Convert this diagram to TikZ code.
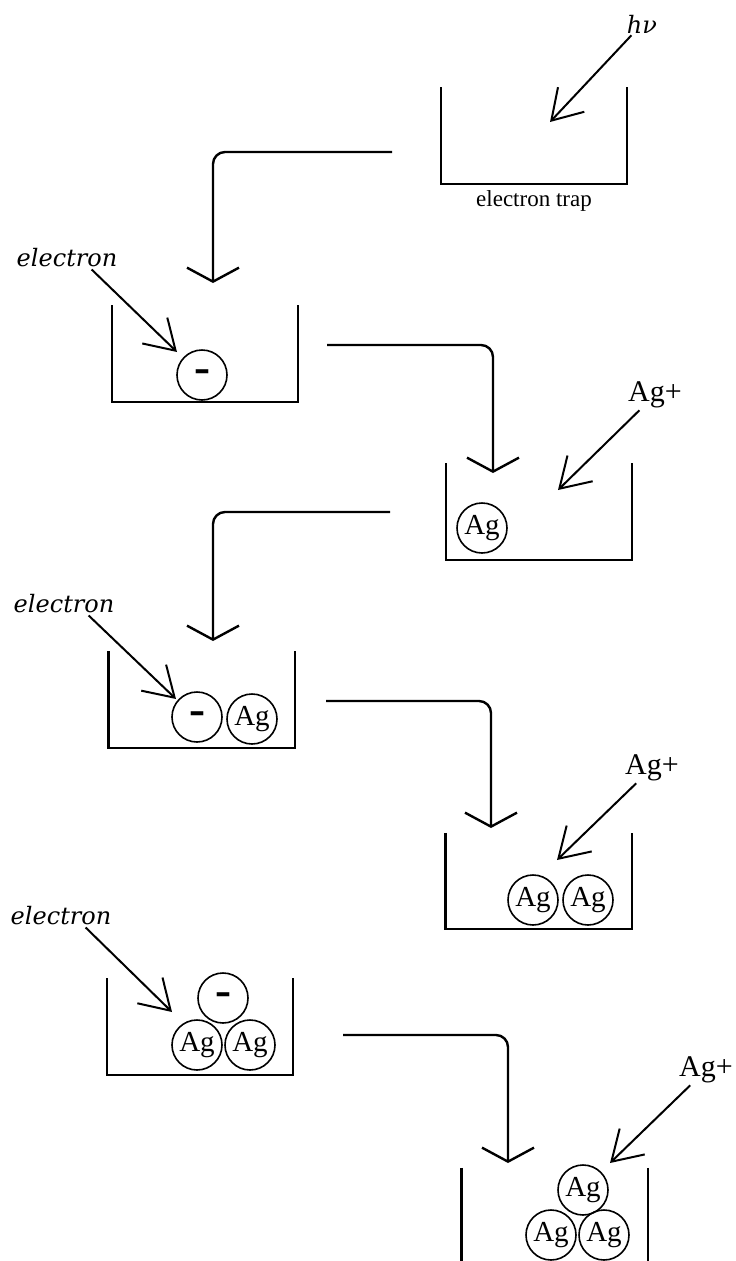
\documentclass[tikz,border=0pt]{standalone}
\usepackage{fontspec}
\setmainfont{Liberation Serif}
\newfontfamily\tagfont{DejaVu Serif}
\newfontfamily\signfont{DejaVu Sans}
\usepackage{tikz}
\usetikzlibrary{arrows.meta}
\usetikzlibrary{positioning}
\tikzstyle{trap} = [rectangle, minimum width=186pt, minimum height=96pt, inner sep=0pt]
\tikzstyle{wall} = [line width=2.4pt]
\tikzstyle{atom} = [circle, draw=black, line width=1.6pt, minimum size=50pt, inner sep=0pt, font=\fontsize{29}{30}\selectfont]
\tikzstyle{charge} = [atom, font=\signfont\bfseries\fontsize{32}{32}\selectfont]
\tikzstyle{ion} = [inner sep=2pt, font=\fontsize{30}{32}\selectfont]
\tikzstyle{tag} = [inner sep=2pt, font=\tagfont\itshape\fontsize{24}{26}\selectfont]
\tikzstyle{caption} = [inner sep=0pt, font=\fontsize{23}{25}\selectfont]
\tikzstyle{flow} = [line width=2.4pt, rounded corners=12pt, -{Straight Barb[length=14pt, width=52pt]}]
\tikzstyle{pointer} = [line width=2pt, -{Straight Barb[length=29pt, width=36pt]}]

\begin{document}
\begin{tikzpicture}[x=1pt, y=-1pt]
\useasboundingbox (0,0) rectangle (736,1261);

\node (trapA) [trap] at (534,135.5) {};
\node (trapB) [trap] at (205,353.5) {};
\node (trapC) [trap] at (539,511.5) {};
\node (trapD) [trap] at (201.5,699.5) {};
\node (trapE) [trap] at (538.5,881) {};
\node (trapF) [trap] at (200,1026.5) {};
\node (trapG) [trap, minimum height=93pt] at (554.5,1214.5) {};

\draw [wall] (trapA.north west) -- (trapA.south west) -- (trapA.south east) -- (trapA.north east);
\draw [wall] (trapB.north west) -- (trapB.south west) -- (trapB.south east) -- (trapB.north east);
\draw [wall] (trapC.north west) -- (trapC.south west) -- (trapC.south east) -- (trapC.north east);
\draw [wall] (trapD.north west) -- (trapD.south west) -- (trapD.south east) -- (trapD.north east);
\draw [wall] (trapE.north west) -- (trapE.south west) -- (trapE.south east) -- (trapE.north east);
\draw [wall] (trapF.north west) -- (trapF.south west) -- (trapF.south east) -- (trapF.north east);
\draw [wall] (trapG.north west) -- (trapG.south west);
\draw [wall] (trapG.north east) -- (trapG.south east);

\node (traptag) [caption, below=7pt of trapA] {electron trap};

% particles sitting in the traps
\node (minusB) [charge] at (202,375) {–};

\node (agC) [atom] at (482,528) {Ag};

\node (minusD) [charge] at (197,717) {–};
\node (agD) [atom] at (252,719) {Ag};

\node (agE1) [atom] at (533,900) {Ag};
\node (agE2) [atom] at (588,900) {Ag};

\node (minusF) [charge] at (223,998) {–};
\node (agF1) [atom] at (197,1045) {Ag};
\node (agF2) [atom] at (250,1045) {Ag};

\node (agG1) [atom] at (583,1190) {Ag};
\node (agG2) [atom] at (551,1235) {Ag};
\node (agG3) [atom] at (604,1235) {Ag};

% incoming photon, electrons and ions
\node (hv) [tag] at (642,24) {hν};
\node (elecB) [tag] at (67,258) {electron};
\node (ionC) [ion] at (655,395) {Ag+};
\node (elecD) [tag] at (64,604) {electron};
\node (ionE) [ion] at (652,768) {Ag+};
\node (elecF) [tag] at (61,916) {electron};
\node (ionG) [ion] at (706,1070) {Ag+};

\coordinate (hitA) at (550,122);
\coordinate (hitB) at (177,352);
\coordinate (hitC) at (558,490);
\coordinate (hitD) at (176,699);
\coordinate (hitE) at (557,860);
\coordinate (hitF) at (172,1012);
\coordinate (hitG) at (610,1163);

\draw [pointer] (hv) -- (hitA);
\draw [pointer] (elecB.-25) -- (hitB);
\draw [pointer] (ionC) -- (hitC);
\draw [pointer] (elecD.-25) -- (hitD);
\draw [pointer] (ionE) -- (hitE);
\draw [pointer] (elecF.-25) -- (hitF);
\draw [pointer] (ionG) -- (hitG);

% hand-over from one stage to the next
\coordinate (outA) at (392,152);
\coordinate (inB) at (213,283);
\coordinate (outB) at (327,345);
\coordinate (inC) at (493,473);
\coordinate (outC) at (390,512);
\coordinate (inD) at (213,641);
\coordinate (outD) at (326,701);
\coordinate (inE) at (491,828);
\coordinate (outF) at (343,1035);
\coordinate (inG) at (508,1163);

\draw [flow] (outA) -| (inB);
\draw [flow] (outB) -| (inC);
\draw [flow] (outC) -| (inD);
\draw [flow] (outD) -| (inE);
\draw [flow] (outF) -| (inG);

\end{tikzpicture}
\end{document}
